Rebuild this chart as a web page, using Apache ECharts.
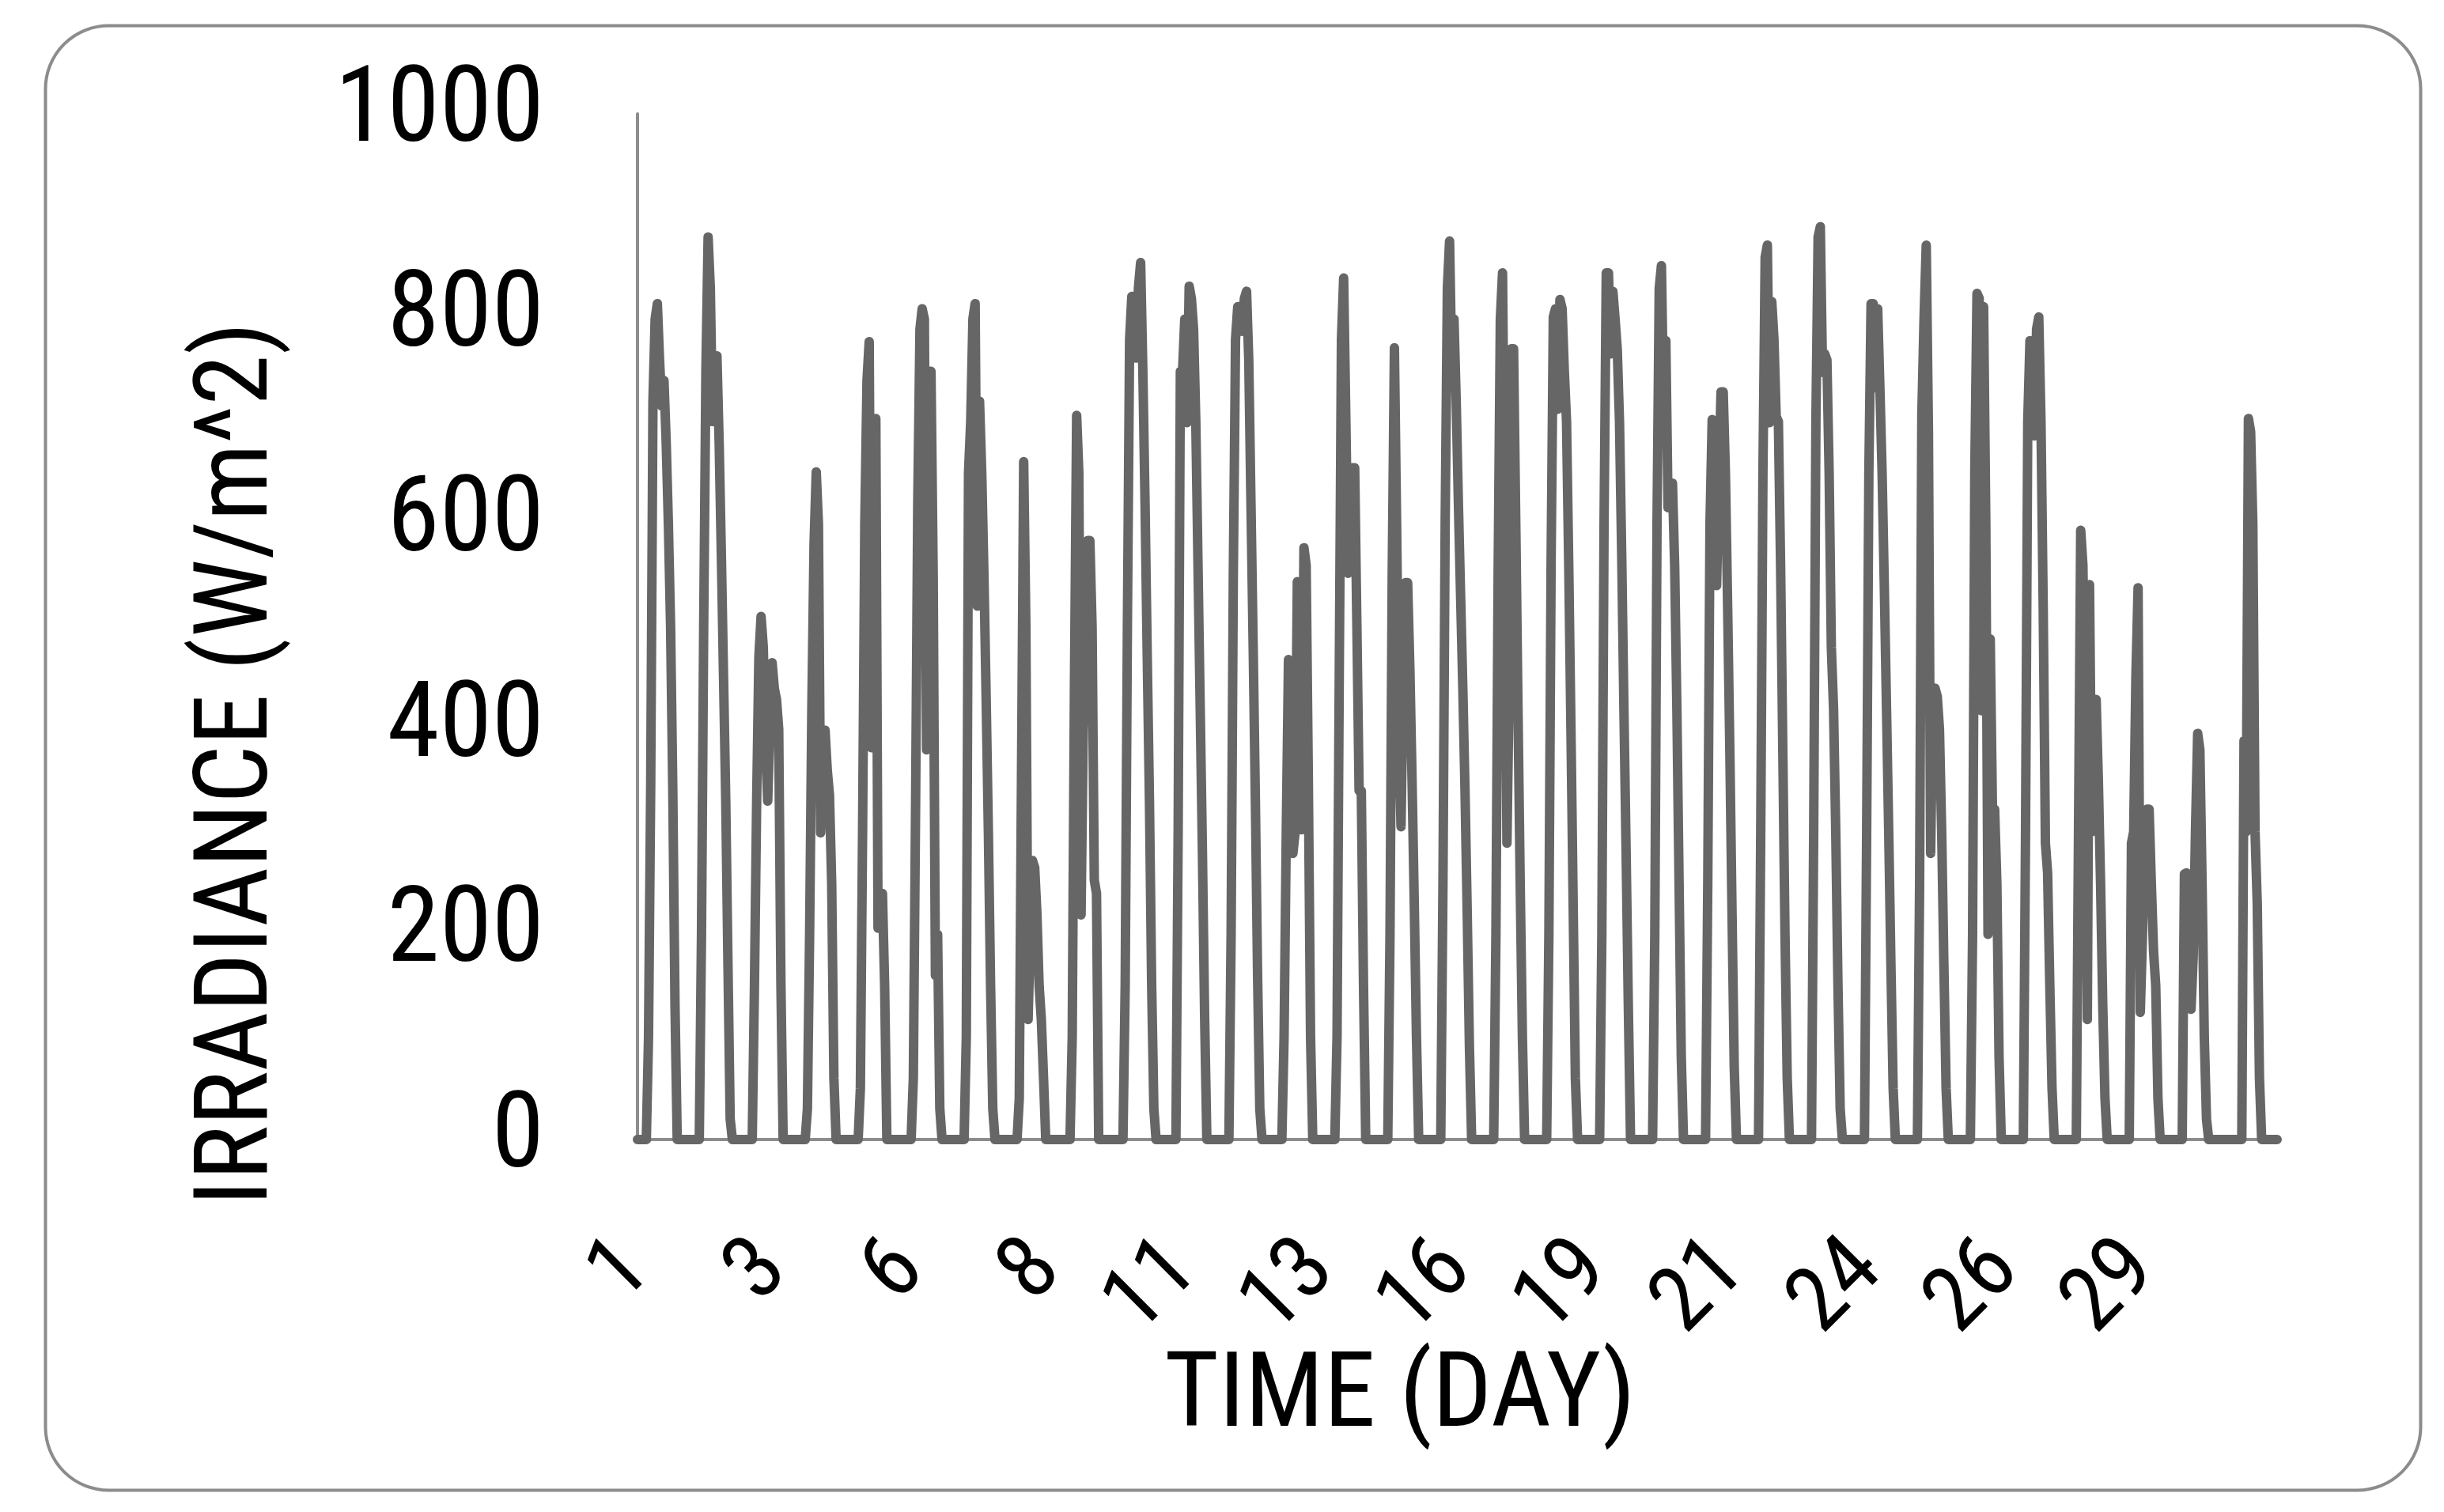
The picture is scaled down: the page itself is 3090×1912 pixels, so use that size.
<!DOCTYPE html>
<html>
<head>
<meta charset="utf-8">
<script src="https://cdn.jsdelivr.net/npm/echarts@6/dist/echarts.min.js"></script>
<style>
html,body{margin:0;padding:0;background:#fff;}
#chart{width:3090px;height:1912px;}
</style>
</head>
<body>
<div id="chart"></div>
<script>
// Hourly irradiance (W/m^2), one array of 24 hourly readings per day
const day01 = [0,0,0,0,0,100,350,720,800,815,760,715,740,680,600,500,340,130,0,0,0,0,0,0];
const day02 = [0,0,0,0,0,200,500,750,880,830,700,760,764,680,570,450,330,170,20,0,0,0,0,0];
const day03 = [0,0,0,0,0,150,330,470,510,480,390,330,400,465,440,429,400,150,0,0,0,0,0,0];
const day04 = [0,0,0,0,0,30,200,420,580,651,600,299,380,399,360,336,250,60,0,0,0,0,0,0];
const day05 = [0,0,0,0,0,50,300,600,740,778,382,650,703,206,240,240,150,0,0,0,0,0,0,0];
const day06 = [0,0,0,0,0,60,320,620,790,810,800,380,749,749,550,160,200,30,0,0,0,0,0,0];
const day07 = [0,0,0,0,0,100,650,700,800,815,520,720,650,550,430,300,150,30,0,0,0,0,0,0];
const day08 = [0,0,0,0,0,40,350,661,500,117,200,272,265,220,150,117,60,0,0,0,0,0,0,0];
const day09 = [0,0,0,0,0,100,440,706,650,219,400,460,584,584,500,253,240,0,0,0,0,0,0,0];
const day10 = [0,0,0,0,0,150,500,780,822,800,762,830,855,750,620,470,330,150,30,0,0,0,0,0];
const day11 = [0,0,0,0,0,300,749,749,800,699,832,820,790,700,560,420,280,120,0,0,0,0,0,0];
const day12 = [0,0,0,0,0,200,550,780,812,812,788,820,827,760,620,480,330,160,30,0,0,0,0,0];
const day13 = [0,0,0,0,0,100,300,468,400,279,300,544,420,302,577,560,350,100,0,0,0,0,0,0];
const day14 = [0,0,0,0,0,100,450,780,840,700,552,600,655,655,500,340,340,150,0,0,0,0,0,0];
const day15 = [0,0,0,0,0,200,550,772,600,400,305,450,543,543,460,350,230,100,0,0,0,0,0,0];
const day16 = [0,0,0,0,0,250,600,830,876,752,800,720,620,530,440,340,220,90,0,0,0,0,0,0];
const day17 = [0,0,0,0,0,200,550,800,845,600,289,444,771,771,600,420,250,100,0,0,0,0,0,0];
const day18 = [0,0,0,0,0,200,560,802,810,712,819,810,749,700,560,400,230,60,0,0,0,0,0,0];
const day19 = [0,0,0,0,0,200,600,845,845,766,827,800,770,700,570,420,280,130,0,0,0,0,0,0];
const day20 = [0,0,0,0,0,200,600,830,852,716,779,616,640,640,560,420,250,80,0,0,0,0,0,0];
const day21 = [0,0,0,0,0,250,600,702,650,540,640,729,729,650,520,380,220,70,0,0,0,0,0,0];
const day22 = [0,0,0,0,0,300,650,860,872,699,817,780,705,700,560,380,200,60,0,0,0,0,0,0];
const day23 = [0,0,0,0,0,300,700,880,890,748,766,760,650,480,420,300,150,30,0,0,0,0,0,0];
const day24 = [0,0,0,0,0,300,650,815,815,733,810,733,650,540,420,300,170,50,0,0,0,0,0,0];
const day25 = [0,0,0,0,0,250,706,800,872,690,279,430,440,432,400,300,170,50,0,0,0,0,0,0];
const day26 = [0,0,0,0,0,200,650,825,820,418,812,600,200,488,322,322,250,80,0,0,0,0,0,0];
const day27 = [0,0,0,0,0,300,700,779,760,686,790,802,700,520,289,260,150,50,0,0,0,0,0,0];
const day28 = [0,0,0,0,0,300,594,560,400,117,541,300,429,429,350,250,130,40,0,0,0,0,0,0];
const day29 = [0,0,0,0,0,289,300,450,538,124,200,300,322,322,250,184,150,40,0,0,0,0,0,0];
const day30 = [0,0,0,0,0,259,260,200,127,180,300,396,380,250,100,20,0,0,0,0,0,0,0,0];
const day31 = [0,0,0,0,0,0,0,0,389,300,703,690,600,300,230,60,0,0,0,0,0,0,0,0];

const dayNumbers = [1,2,3,4,5,6,7,8,9,10,11,12,13,14,15,16,17,18,19,20,21,22,23,24,25,26,27,28,29,30,31];
const hoursPerDay = 24;
const yTicks = [0, 200, 400, 600, 800, 1000];

const days = [day01,day02,day03,day04,day05,day06,day07,day08,day09,day10,day11,day12,day13,day14,day15,day16,
              day17,day18,day19,day20,day21,day22,day23,day24,day25,day26,day27,day28,day29,day30,day31];
const irradiance = [].concat(...days);
const categories = [];
dayNumbers.forEach(function (d) { for (let h = 0; h < hoursPerDay; h++) categories.push(String(d)); });

const FONT = "'Roboto Condensed', 'Liberation Sans', sans-serif";

const chart = echarts.init(document.getElementById('chart'), null, {renderer: 'canvas'});
chart.setOption({
  animation: false,
  backgroundColor: '#ffffff',
  grid: {left: 806, right: 211, top: 144, bottom: 471, containLabel: false},
  xAxis: {
    type: 'category',
    data: categories,
    boundaryGap: false,
    axisLine: {show: true, lineStyle: {color: '#8c8c8c', width: 4}},
    axisTick: {show: false},
    splitLine: {show: false},
    axisLabel: {
      interval: 61,
      rotate: 45,
      margin: 148,
      color: '#000000',
      fontFamily: FONT,
      fontSize: 114
    }
  },
  yAxis: {
    type: 'value',
    min: yTicks[0],
    max: yTicks[yTicks.length - 1],
    interval: 200,
    axisLine: {show: true, lineStyle: {color: '#8c8c8c', width: 4}},
    axisTick: {show: false},
    splitLine: {show: false},
    axisLabel: {margin: 118, color: '#000000', fontFamily: FONT, fontSize: 134,
                padding: [16, 0, 0, 0],
                formatter: function (v) { return String(v); }}
  },
  series: [{
    type: 'line',
    data: irradiance,
    showSymbol: false,
    symbol: 'none',
    lineStyle: {color: '#666666', width: 12, join: 'round', cap: 'round'},
    z: 3
  }],
  graphic: [
    {type: 'rect', left: 55, top: 30, z: -10,
     shape: {width: 3003, height: 1852, r: 80},
     style: {fill: 'none', stroke: '#8c8c8c', lineWidth: 4}},
    {type: 'text', x: 304, y: 966, rotation: Math.PI / 2,
     style: {text: 'IRRADIANCE (W/m^2)', font: '130px ' + FONT, fill: '#000000',
             textAlign: 'center', textVerticalAlign: 'middle'}},
    {type: 'text', x: 1770, y: 1770,
     style: {text: 'TIME (DAY)', font: '132px ' + FONT, fill: '#000000',
             textAlign: 'center', textVerticalAlign: 'middle'}}
  ]
});
</script>
</body>
</html>
